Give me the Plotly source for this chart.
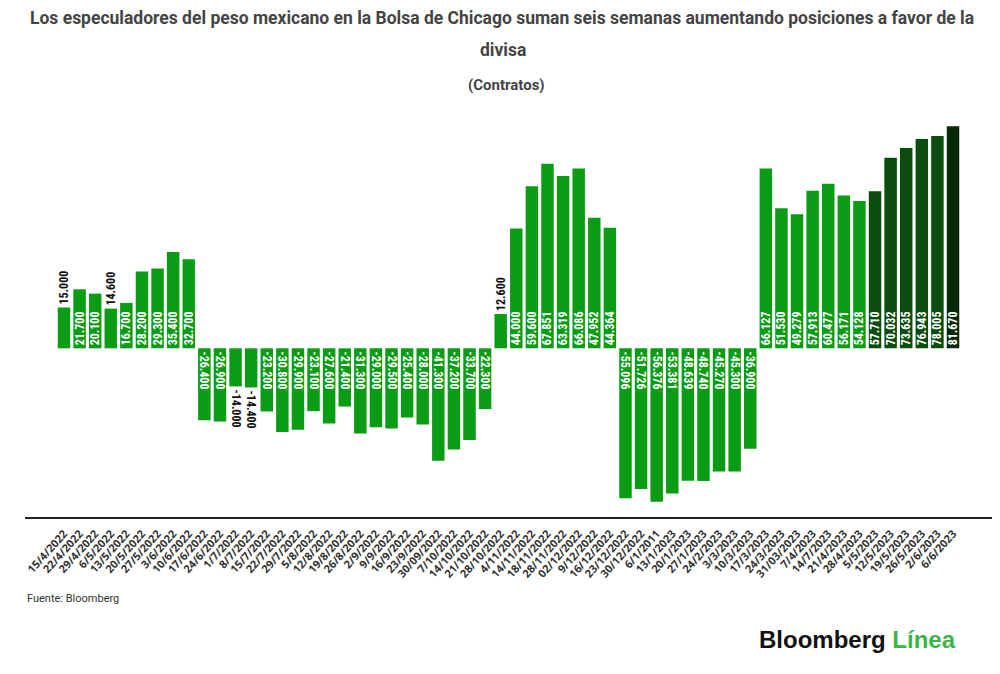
import plotly.graph_objects as go

fechas = [
    "15/4/2022", "22/4/2022", "29/4/2022", "6/5/2022", "13/5/2022", "20/5/2022",
    "27/5/2022", "3/6/2022", "10/6/2022", "17/6/2022", "24/6/2022", "1/7/2022",
    "8/7/2022", "15/7/2022", "22/7/2022", "29/7/2022", "5/8/2022", "12/8/2022",
    "19/8/2022", "26/8/2022", "2/9/2022", "9/9/2022", "16/9/2022", "23/9/2022",
    "30/09/2022", "7/10/2022", "14/10/2022", "21/10/2022", "28/10/2022", "4/11/2022",
    "14/11/2022", "18/11/2022", "28/11/2022", "02/12/2022", "9/12/2022", "16/12/2022",
    "23/12/2022", "30/12/2022", "6/1/2011", "13/1/2023", "20/1/2023", "27/1/2023",
    "24/2/2023", "3/3/2023", "10/3/2023", "17/3/2023", "24/3/2023", "31/03/2023",
    "7/4/2023", "14/7/2023", "21/4/2023", "28/4/2023", "5/5/2023", "12/5/2023",
    "19/5/2023", "26/5/2023", "2/6/2023", "6/6/2023",
]
contratos = [
    15000, 21700, 20100, 14600, 16700, 28200, 29300, 35400, 32700,
    -26400, -26900, -14000, -14400, -23200, -30800, -29900, -23100, -27600,
    -21400, -31300, -29000, -29500, -25400, -28000, -41300, -37200, -33700, -22300,
    12600, 44000, 59600, 67851, 63319, 66086, 47952, 44364,
    -55096, -51726, -56376, -53381, -48639, -48740, -45270, -45300, -36900,
    66127, 51530, 49279, 57913, 60477, 56171, 54128,
    57710, 70032, 73635, 76943, 78005, 81670,
]
# semanas de aumento consecutivo (barras oscuras)
racha = ["5/5/2023", "12/5/2023", "19/5/2023", "26/5/2023", "2/6/2023"]
ultima = "6/6/2023"

VERDE = "#0a9c14"
VERDE_OSCURO = "#0a4d0c"
VERDE_NEGRO = "#062a06"

# la pagina deja 8px de margen en el body: se descuenta
OFF = 8
W, H = 1000 - 2 * OFF, 674 - 2 * OFF
# zona de trazado en pixeles de la imagen (izq, arriba, abajo)
LEFT, TOP, BOTTOM = 25, 110, 517
ALTO = BOTTOM - TOP
ANCHO = 1000 - LEFT


def color_de(f):
    if f == ultima:
        return VERDE_NEGRO
    if f in racha:
        return VERDE_OSCURO
    return VERDE


def px_y(pix):
    # pixel vertical -> coordenada paper
    return (BOTTOM - pix) / ALTO


def px_x(pix):
    return (pix - LEFT) / ANCHO


pos = [(i, f, v) for i, (f, v) in enumerate(zip(fechas, contratos)) if v >= 0]
neg = [(i, f, v) for i, (f, v) in enumerate(zip(fechas, contratos)) if v < 0]

fuente_barra = dict(size=12, family="Liberation Sans Narrow, Roboto Condensed, Roboto", weight="bold")

fig = go.Figure()
for grupo, angulo in [(pos, -90), (neg, 90)]:
    xs = [p[0] for p in grupo]
    ys = [p[2] for p in grupo]
    fig.add_trace(
        go.Bar(
            x=xs,
            y=ys,
            marker=dict(color=[color_de(p[1]) for p in grupo], line=dict(width=0)),
            texttemplate="%{y:,}",
            textposition=["outside" if abs(v) < 15500 else "inside" for v in ys],
            insidetextanchor="start",
            textangle=angulo,
            constraintext="none",
            insidetextfont=dict(color="white", **fuente_barra),
            outsidetextfont=dict(color="#111", **fuente_barra),
            cliponaxis=False,
            hoverinfo="x+y",
            showlegend=False,
        )
    )

fig.update_layout(
    width=W,
    height=H,
    margin=dict(l=LEFT - OFF, r=0, t=TOP - OFF, b=H - (BOTTOM - OFF)),
    paper_bgcolor="white",
    plot_bgcolor="white",
    separators=",.",
    bargap=0.2,
    barmode="overlay",
    uniformtext=dict(minsize=12, mode="show"),
    font=dict(family="Roboto, sans-serif"),
    xaxis=dict(
        tickmode="array",
        tickvals=list(range(len(fechas))),
        ticktext=fechas,
        tickangle=-48,
        tickfont=dict(size=11, color="#333", family="Open Sans", weight="bold"),
        ticklabelstandoff=4,
        automargin=False,
        range=[-2.5, len(fechas) + 1.5],
        showline=True,
        linecolor="#222",
        linewidth=2,
        showgrid=False,
        zeroline=False,
        ticks="",
        fixedrange=True,
    ),
    yaxis=dict(
        range=[-62000, 87600],
        visible=False,
        showgrid=False,
        zeroline=False,
        automargin=False,
        fixedrange=True,
    ),
    annotations=[
        dict(
            text="<b>Los especuladores del peso mexicano en la Bolsa de Chicago suman seis semanas aumentando posiciones a favor de la</b>",
            xref="paper", yref="paper", x=px_x(506), y=px_y(18),
            xanchor="center", yanchor="middle", showarrow=False,
            font=dict(size=17.5, color="#444"),
        ),
        dict(
            text="<b>divisa</b>",
            xref="paper", yref="paper", x=px_x(507), y=px_y(50),
            xanchor="center", yanchor="middle", showarrow=False,
            font=dict(size=17.5, color="#444"),
        ),
        dict(
            text="<b>(Contratos)</b>",
            xref="paper", yref="paper", x=px_x(510), y=px_y(85),
            xanchor="center", yanchor="middle", showarrow=False,
            font=dict(size=15, color="#444"),
        ),
        dict(
            text="Fuente: Bloomberg",
            xref="paper", yref="paper", x=0, y=px_y(598),
            xanchor="left", yanchor="middle", showarrow=False,
            font=dict(size=11, color="#333"),
        ),
        dict(
            text="<b>Bloomberg</b> <span style='color:#3db449'><b>Línea</b></span>",
            xref="paper", yref="paper", x=px_x(966), y=px_y(639),
            xanchor="right", yanchor="middle", showarrow=False,
            font=dict(size=24, color="#111", family="Liberation Sans"),
        ),
    ],
)

fig.write_html("out.html")
